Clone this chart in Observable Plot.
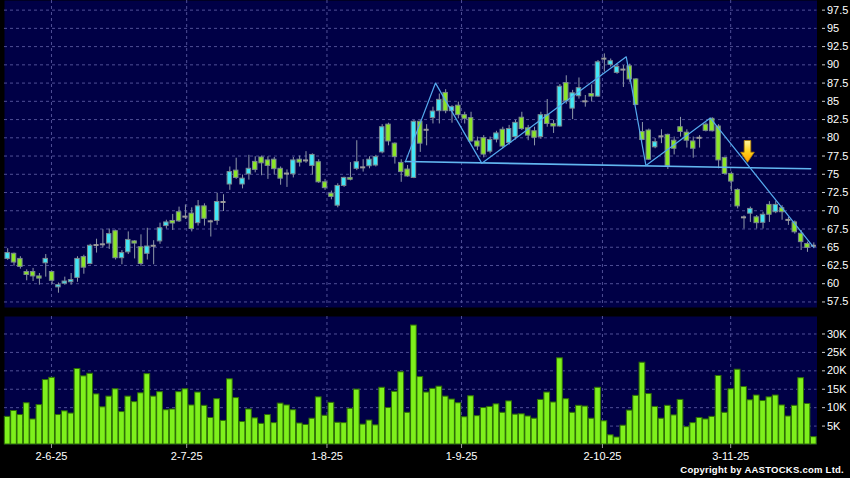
<!DOCTYPE html>
<html><head><meta charset="utf-8">
<script src="https://cdn.jsdelivr.net/npm/d3@7"></script>
<script src="https://cdn.jsdelivr.net/npm/@observablehq/plot@0.6"></script>
<style>
html,body{margin:0;padding:0;background:#000;}
#chart{width:850px;height:478px;position:relative;overflow:hidden;background:#000;font-family:"Liberation Sans",Arial,sans-serif;}
#chart svg{display:block;}
.copy{position:absolute;right:6px;top:464px;color:#fff;font:bold 9.5px "Liberation Sans",Arial,sans-serif;letter-spacing:0.25px;white-space:nowrap;}
</style></head>
<body><div id="chart"></div>
<script>
// ---- data (bar index = trading day) ----
const opens  = [63.4,64.1,63.4,61.6,61.6,61.0,62.8,61.6,59.5,60.0,60.2,60.8,63.65,62.7,65.3,65.4,65.5,67.2,63.5,64.3,65.8,65.0,64.1,65.2,65.8,67.9,68.6,69.8,69.2,69.6,68.3,70.6,68.55,68.6,71.2,73.6,75.5,73.6,75.0,76.7,77.3,76.9,77.0,75.75,75.1,75.0,77.0,76.9,76.15,76.65,73.9,72.35,70.7,73.4,74.5,75.75,75.95,76.1,76.2,78.0,81.8,79.2,76.56,75.65,74.5,82.2,81.1,82.7,83.65,86.15,83.65,84.4,83.1,82.7,79.5,79.95,78.1,79.75,81.1,79.3,80.1,82.75,81.3,80.9,80.1,83.1,81.9,81.55,87.5,84.0,85.7,85.0,86.0,85.65,90.85,90.0,88.9,89.35,89.8,88.0,80.8,81.0,78.7,80.2,80.4,79.6,81.45,80.7,79.5,80.0,81.8,82.6,81.55,77.25,75.05,72.85,69.1,69.6,69.1,68.35,70.8,69.8,70.35,68.75,68.4,66.85,65.45,65.2];
const highs  = [64.8,64.2,63.7,61.9,62.1,61.4,64.0,61.7,60.1,60.9,61.4,63.7,63.9,65.4,66.1,67.4,67.5,67.35,64.55,67.1,65.9,66.7,67.6,65.9,68.3,68.7,69.5,70.5,70.8,70.4,71.4,70.95,68.7,72.4,72.2,76.0,77.2,74.9,77.6,77.4,77.5,77.4,77.3,76.0,75.6,77.3,77.5,78.1,77.8,77.0,74.3,72.7,73.7,74.6,76.6,79.6,77.0,77.4,77.6,81.8,82.0,79.3,77.0,76.2,82.36,82.35,81.8,84.2,86.0,86.6,84.4,84.9,83.5,83.5,80.1,80.3,80.1,80.9,81.45,81.7,82.4,83.5,81.7,81.45,83.5,85.25,82.4,87.3,88.5,86.5,88.2,85.8,87.25,90.6,91.5,90.8,90.1,89.9,90.1,88.1,82.1,81.2,79.9,81.1,80.5,80.1,82.8,81.1,80.1,80.3,82.05,82.75,81.8,77.3,75.3,73.0,69.3,70.5,69.35,69.8,71.25,71.3,70.7,69.1,68.6,67.3,65.7,65.6];
const lows   = [63.2,62.4,62.0,60.4,60.3,59.8,60.9,59.9,58.7,59.8,59.8,60.2,61.3,62.6,64.2,64.9,64.7,63.25,62.6,64.0,63.4,62.4,63.25,62.6,65.4,67.5,67.3,68.4,68.8,67.1,67.9,67.9,66.4,68.0,69.9,72.8,74.3,73.0,74.2,75.2,74.8,74.3,74.9,73.5,73.2,74.5,76.0,76.5,74.9,73.75,72.8,71.5,70.4,73.2,74.1,75.5,75.3,75.75,76.0,77.8,78.9,76.4,73.9,74.6,74.4,78.0,78.9,81.9,81.9,83.3,82.0,82.6,81.9,79.4,78.25,77.25,77.8,79.3,78.5,79.0,79.7,81.0,79.6,78.9,79.8,81.45,80.6,81.45,84.6,82.5,85.3,84.2,84.9,85.55,89.0,89.7,88.7,86.9,87.6,84.4,79.6,76.9,78.5,79.2,75.65,77.66,80.1,78.6,77.2,78.6,80.8,80.8,75.75,74.95,72.6,70.25,67.5,68.4,67.5,67.5,68.4,69.6,68.7,68.0,66.8,64.55,64.3,64.8];
const closes = [64.2,62.9,62.3,61.2,61.0,60.7,63.4,60.4,59.8,60.3,60.5,63.4,62.2,65.2,65.3,65.4,66.8,63.5,64.2,66.0,65.5,62.7,65.1,65.2,67.6,68.4,68.25,68.55,69.2,67.5,70.6,68.9,68.55,71.2,71.2,75.3,74.5,74.4,75.75,75.6,76.5,76.15,75.7,74.4,75.1,76.9,76.6,76.9,77.65,73.9,73.1,71.9,73.4,74.5,74.25,76.65,75.95,77.0,77.35,81.45,79.5,77.35,75.3,74.7,82.2,79.2,81.1,83.6,85.2,83.65,84.2,83.1,82.6,79.5,78.8,77.7,79.7,80.6,78.8,81.2,82.05,81.2,80.3,80.0,83.1,81.9,81.55,87.0,85.0,86.1,86.8,85.0,85.65,90.35,90.85,90.5,89.7,89.35,88.0,84.5,79.7,77.0,79.4,80.2,76.1,78.5,80.8,79.6,78.5,80.0,80.95,80.9,76.9,75.05,74.0,70.6,69.1,70.25,68.3,69.45,69.45,70.8,69.8,68.75,67.05,65.7,64.9,65.2];
// volume in thousands of shares
const volumesK = [7.5,9.1,8.0,11.2,6.8,10.7,17.5,18.1,8.0,9.0,8.4,20.5,18.5,19.2,13.6,10.1,13.0,15.0,8.8,13.0,11.5,13.9,19.1,13.0,14.2,9.3,9.5,14.2,15.0,10.6,14.1,10.5,7.2,12.3,6.4,17.7,12.6,6.1,9.5,7.1,5.6,8.0,5.8,11.1,10.6,9.3,5.7,5.3,7.0,12.8,7.8,11.3,5.9,5.8,9.7,14.9,5.4,6.5,5.2,15.4,9.9,14.3,19.6,8.6,32.3,18.3,14.1,15.1,15.7,13.0,12.2,11.2,7.4,13.1,7.7,9.9,10.2,10.9,8.6,11.7,8.1,8.2,7.6,7.0,12.1,14.1,11.4,23.4,12.3,8.6,10.5,10.3,7.0,15.4,6.3,2.5,1.9,5.1,9.2,13.2,22.2,13.7,10.2,7.0,10.5,7.9,12.1,4.7,5.8,7.2,6.8,7.5,18.6,8.6,15.0,20.3,15.6,12.0,13.3,11.8,12.8,13.3,10.6,7.6,10.5,18.0,11.0,2.0];
const dateTickPos = [7.4, 28.7, 50.8, 72.0, 94.2, 114.4];
const dateTickLabels = ["2-6-25","2-7-25","1-8-25","1-9-25","2-10-25","3-11-25"];
const priceTicks = [57.5,60,62.5,65,67.5,70,72.5,75,77.5,80,82.5,85,87.5,90,92.5,95,97.5];
const volumeTicks = [5000,10000,15000,20000,25000,30000];
// drawn pattern lines (bar position, price)
const zigzagX = [63.15, 67.9, 75.2, 97.95, 101.05, 111.2, 127.45];
const zigzagY = [76.7, 87.5, 76.5, 91.1, 76.2, 82.7, 65.0];
const necklineX = [63.15, 127.0];
const necklineY = [76.75, 75.75];
const arrowX = [117.05];
const arrowY = [78.12];

// ---- styles ----
const NAVY = "#000046", GRID = "#4f4f96", CYAN = "#40e6f6", GREEN = "#8be626", DOJI = "#9a9a9a",
      WICK = "#8e98a8", OUTLINE = "#7a8a90", LINE = "#55aaee";
const N = opens.length;
const candles = opens.map((o, i) => ({i, o, h: highs[i], l: lows[i], c: closes[i]}));
const vols = volumesK.map((v, i) => ({i, v: v * 1000}));
const zigzag = zigzagX.map((x, k) => ({x, y: zigzagY[k]}));
const neckline = necklineX.map((x, k) => ({x, y: necklineY[k]}));
const arrows = arrowX.map((x, k) => ({x, y: arrowY[k]}));
const labelAt = new Map(dateTickPos.map((p, k) => [p, dateTickLabels[k]]));

const XR = [4, 816.5];
const font = {fontFamily: "'Liberation Sans', Arial, sans-serif", fontSize: "11px", color: "#fff", background: "transparent", overflow: "visible"};

const arrowSymbol = {
  draw(ctx) {
    ctx.moveTo(-3.3, -11); ctx.lineTo(3.3, -11); ctx.lineTo(3.3, 0.7);
    ctx.lineTo(6.8, 0.7); ctx.lineTo(0, 10.8); ctx.lineTo(-6.8, 0.7);
    ctx.lineTo(-3.3, 0.7); ctx.closePath();
  }
};

const price = Plot.plot({
  width: 850, height: 312,
  marginLeft: 4, marginRight: 33.5, marginTop: 0, marginBottom: 5,
  style: font,
  x: {domain: [0, N], range: XR, axis: null},
  y: {domain: [56.74, 98.82], range: [307, 0], axis: null},
  color: {type: "identity"},
  marks: [
    Plot.frame({fill: NAVY, stroke: "none"}),
    Plot.ruleY(priceTicks, {stroke: GRID, strokeDasharray: "3,3"}),
    Plot.ruleX(dateTickPos, {stroke: GRID, strokeDasharray: "3,3"}),
    Plot.ruleX(candles, {x: d => d.i + 0.5, y1: "l", y2: "h", stroke: WICK, strokeWidth: 1}),
    Plot.rect(candles.filter(d => d.o !== d.c), {
      x1: d => d.i + 0.15, x2: d => d.i + 0.85, y1: "o", y2: "c",
      fill: d => d.c > d.o ? CYAN : GREEN, stroke: OUTLINE, strokeWidth: 1
    }),
    Plot.ruleY(candles.filter(d => d.o === d.c), {x1: d => d.i + 0.1, x2: d => d.i + 0.9, y: "o", stroke: DOJI, strokeWidth: 2}),
    Plot.line(neckline, {x: "x", y: "y", stroke: "#62b6f0", strokeWidth: 1.6}),
    Plot.line(zigzag, {x: "x", y: "y", stroke: LINE, strokeWidth: 1.2}),
    Plot.dot(arrows, {x: "x", y: "y", symbol: arrowSymbol, r: 5, fill: "url(#arrowGrad)", stroke: "#b88400", strokeWidth: 0.8}),
    Plot.axisY(priceTicks, {anchor: "right", label: null, tickSize: 3, tickPadding: 2.5, dx: 4.5, stroke: "#cfcfcf", fill: "#fff",
      tickFormat: d => String(d), fontSize: 11})
  ]
});

// gradient for the arrow
const defs = document.createElementNS("http://www.w3.org/2000/svg", "defs");
defs.innerHTML = '<linearGradient id="arrowGrad" x1="0" y1="0" x2="0" y2="1">' +
  '<stop offset="0" stop-color="#fff4a0"/><stop offset="0.5" stop-color="#ffd21c"/><stop offset="1" stop-color="#ff9d00"/></linearGradient>';
price.insertBefore(defs, price.firstChild);

const volume = Plot.plot({
  width: 850, height: 166,
  marginLeft: 4, marginRight: 33.5, marginTop: 4, marginBottom: 34,
  style: font,
  x: {domain: [0, N], range: XR, axis: null},
  y: {domain: [0, 34750], axis: null},
  marks: [
    Plot.frame({fill: NAVY, stroke: "none"}),
    Plot.ruleY(volumeTicks, {stroke: GRID, strokeDasharray: "3,3"}),
    Plot.ruleX(dateTickPos, {stroke: GRID, strokeDasharray: "3,3"}),
    Plot.rect(vols, {x1: d => d.i + 0.05, x2: d => d.i + 0.95, y1: 0, y2: "v", fill: "#7ef01c", stroke: "#2f6f06", strokeWidth: 1}),
    Plot.axisY(volumeTicks, {anchor: "right", label: null, tickSize: 3, tickPadding: 2.5, dx: 4.5, stroke: "#cfcfcf", fill: "#fff",
      tickFormat: d => (d / 1000) + "K", fontSize: 11}),
    Plot.axisX(dateTickPos, {anchor: "bottom", label: null, tickSize: 4, tickPadding: 4, stroke: "#9a9a9a", fill: "#fff",
      tickFormat: d => labelAt.get(d), fontSize: 11})
  ]
});

const root = document.getElementById("chart");
root.append(price, volume);
const cap = document.createElement("div");
cap.className = "copy";
cap.textContent = "Copyright by AASTOCKS.com Ltd.";
root.append(cap);
</script>
</body></html>
